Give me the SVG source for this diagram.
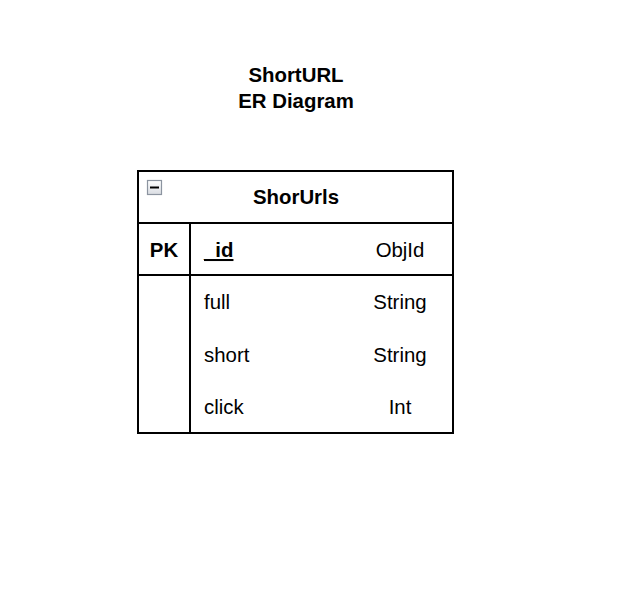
<svg xmlns="http://www.w3.org/2000/svg" width="621" height="590" viewBox="0 0 621 590">
<style>
text{font-family:"Liberation Sans",Arial,sans-serif;font-size:20.4px;fill:#000}
.b{font-weight:bold}
.m{text-anchor:middle}
.ln{stroke:#000;stroke-width:2;fill:none}
</style>
<defs>
<linearGradient id="ig" x1="0" y1="0" x2="0" y2="1">
<stop offset="0" stop-color="#ffffff"/>
<stop offset="1" stop-color="#d9dce2"/>
</linearGradient>
</defs>
<rect width="621" height="590" fill="#fff"/>
<g id="title">
<text class="b m" x="296" y="82">ShortURL</text>
<text class="b m" x="296" y="108">ER Diagram</text>
</g>
<g id="ShorUrls">
<rect class="ln" x="138" y="171" width="315" height="262" fill="#fff"/>
<line class="ln" x1="138" y1="223" x2="453" y2="223"/>
<line class="ln" x1="138" y1="275" x2="453" y2="275"/>
<line class="ln" x1="190" y1="223" x2="190" y2="433"/>
<g id="collapse">
<rect x="147.5" y="180.5" width="14" height="14" fill="url(#ig)" stroke="#8c94a0" stroke-width="1.2"/>
<line x1="150" y1="187.5" x2="159" y2="187.5" stroke="#000" stroke-width="2"/>
</g>
<text class="b m" x="296" y="204">ShorUrls</text>
<text class="b m" x="164" y="257">PK</text>
<text class="b" x="204" y="257" text-decoration="underline">_id</text>
<text class="m" x="400" y="257">ObjId</text>
<text x="204" y="309">full</text>
<text class="m" x="400" y="309">String</text>
<text x="204" y="361.5">short</text>
<text class="m" x="400" y="361.5">String</text>
<text x="204" y="413.5">click</text>
<text class="m" x="400" y="413.5">Int</text>
</g>
<g id="connectors"/>
</svg>
